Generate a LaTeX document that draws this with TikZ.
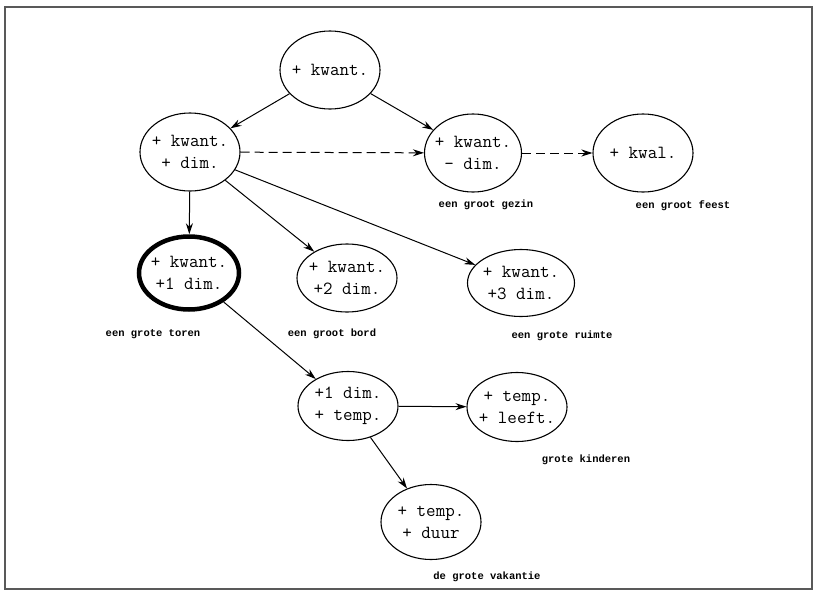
\documentclass[tikz,border=0pt]{standalone}
\usepackage{fontspec}
\usepackage{tikz}
\usetikzlibrary{shapes.geometric,arrows.meta}
\newfontfamily\monofont{Liberation Mono}

\tikzset{
  feat/.style={ellipse, draw, line width=1.1pt, align=center,
    inner xsep=-12pt, inner ysep=-6pt,
    minimum width=100pt, minimum height=78pt,
    font=\ttfamily\fontsize{18.5}{22}\selectfont},
  featbold/.style={feat, line width=4.5pt},
  example/.style={font=\monofont\bfseries\fontsize{10.5}{12}\selectfont},
  link/.style={->, line width=1pt},
  weak/.style={->, line width=1pt, dash pattern=on 9pt off 5pt}
}

\begin{document}
\begin{tikzpicture}[x=1pt, y=-1pt, >={Stealth[length=11pt,width=7pt]}]
        \useasboundingbox (0,0) rectangle (815,592);
        \draw[line width=1.3pt, black!65] (5,7) rectangle (812,589);

        \node[feat] (kwant) at (330,70) {+ kwant.};
        \node[feat] (kwantdim) at (190,152) {+ kwant.\\+ dim.};
        \node[feat, minimum width=97pt] (kwantmin) at (473,153) {+ kwant.\\- dim.};
        \node[feat] (kwal) at (643,153) {+ kwal.};
        \node[example] (gezin) at (486,205) {een groot gezin};
        \node[example] (feest) at (683,206) {een groot feest};

        \node[featbold, minimum width=100pt, minimum height=73pt] (dimone) at (189,273) {+ kwant.\\+1 dim.};
        \node[feat, minimum height=68pt] (dimtwo) at (347,278) {+ kwant.\\+2 dim.};
        \node[feat, minimum width=107pt, minimum height=67pt] (dimthree) at (521,283) {+ kwant.\\+3 dim.};
        \node[example] (toren) at (153,334) {een grote toren};
        \node[example] (bord) at (332,334) {een groot bord};
        \node[example] (ruimte) at (562,336) {een grote ruimte};

        \node[feat, minimum height=69pt] (dimtemp) at (348,406) {+1 dim.\\+ temp.};
        \node[feat, minimum height=69pt] (leeft) at (517,407) {+ temp.\\+ leeft.};
        \node[example] (kinderen) at (586,460) {grote kinderen};
        \node[feat, minimum height=75pt] (duur) at (431,522) {+ temp.\\+ duur};
        \node[example] (vakantie) at (487,577) {de grote vakantie};

        \draw[link] (kwant) -- (kwantdim);
        \draw[link] (kwant) -- (kwantmin);
        \draw[weak] (kwantdim) -- (kwantmin);
        \draw[weak] (kwantmin) -- (kwal);
        \draw[link] (kwantdim) -- (dimone);
        \draw[link] (kwantdim) -- (dimtwo);
        \draw[link] (kwantdim) -- (dimthree);
        \draw[link] (dimone) -- (dimtemp);
        \draw[link] (dimtemp) -- (leeft);
        \draw[link] (dimtemp) -- (duur);
\end{tikzpicture}
\end{document}
